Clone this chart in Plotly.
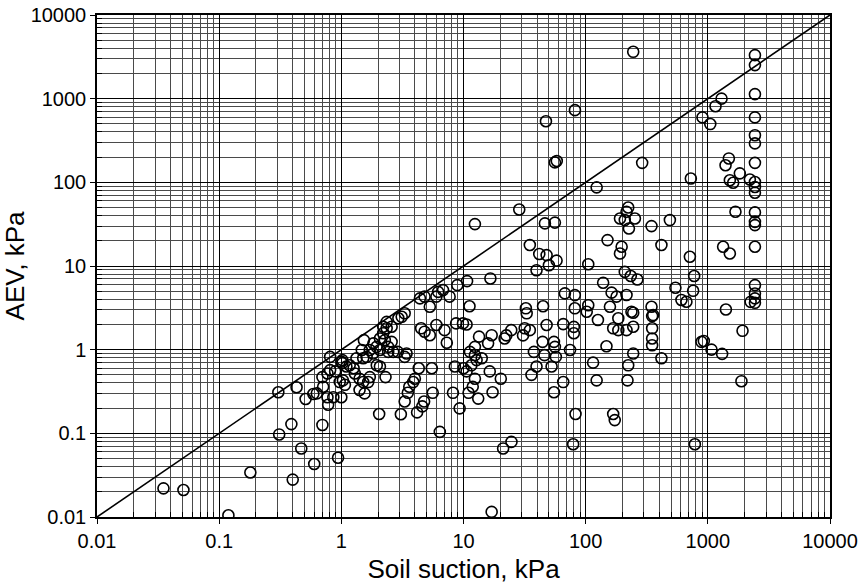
import plotly.graph_objects as go

# ---- data (soil suction kPa, AEV kPa) grouped by region ----
suction_a = [0.035, 0.051, 0.119, 0.18, 0.40, 0.60, 0.47, 0.31, 0.39, 0.70, 0.94]
aev_a     = [0.022, 0.021, 0.0105, 0.034, 0.028, 0.043, 0.066, 0.097, 0.129, 0.126, 0.051]

suction_b = [0.305, 0.43, 0.51, 0.59, 0.63, 0.70, 0.77, 0.71, 0.77, 0.78, 0.86, 1.0, 0.97, 1.07,
             1.02, 1.02, 1.26, 1.33, 1.47, 1.53, 1.41, 1.55, 1.66, 1.71, 1.61, 1.71, 1.83, 1.94,
             2.07, 2.30, 2.04, 2.2, 2.35, 1.17, 1.10, 1.0, 0.81, 0.89, 2.07, 0.81, 1.03, 1.29,
             1.41, 1.51, 1.51, 1.95]
aev_b     = [0.31, 0.355, 0.257, 0.295, 0.30, 0.47, 0.52, 0.36, 0.27, 0.22, 0.27, 0.27, 0.41, 0.38,
             0.69, 0.75, 0.60, 0.79, 0.99, 1.30, 0.33, 0.30, 0.41, 0.47, 0.82, 0.99, 1.19, 1.08,
             0.63, 0.47, 0.17, 1.88, 2.15, 0.65, 0.63, 0.72, 0.57, 0.55, 1.36, 0.82, 0.43, 0.52,
             0.45, 0.41, 0.79, 0.65]

suction_c = [3.3, 3.12, 2.93, 2.58, 2.35, 2.2, 2.27, 2.58, 2.42, 2.07, 1.82,
             4.4, 4.8, 5.3, 6.0, 6.2, 6.8, 7.7, 8.9, 10.7, 16.6, 11.2,
             7.3, 7.0, 6.0, 5.3, 4.8, 4.5,
             3.42, 3.3, 2.66, 2.42, 2.9,
             3.07, 4.17, 4.6, 4.76, 3.3, 3.5, 3.6, 3.88, 4.0, 5.6, 4.3, 5.5, 6.4,
             8.7, 9.9, 10.6]
aev_c     = [2.72, 2.47, 2.37, 1.88, 1.80, 1.57, 1.30, 1.24, 1.08, 0.99, 0.90,
             4.1, 4.3, 3.26, 4.3, 4.9, 5.15, 4.3, 5.9, 6.6, 7.1, 3.3,
             1.21, 1.71, 1.97, 1.49, 1.64, 1.80,
             0.90, 0.82, 0.94, 0.94, 0.94,
             0.169, 0.178, 0.21, 0.24, 0.24, 0.305, 0.36, 0.41, 0.45, 0.305, 0.60, 0.60, 0.104,
             2.06, 2.06, 2.0]

suction_d = [8.2, 9.3, 11, 11.9, 13.2, 17.3, 20.2, 16.4, 12.4,
             8.5, 10, 11.6, 12.8, 14.1, 12.4, 11.3, 12.4, 13.4, 17, 15.9, 10.6,
             12.4, 17, 24.7, 21.1, 22.4, 21.7, 24.6]
aev_d     = [0.305, 0.199, 0.305, 0.36, 0.26, 0.31, 0.45, 0.55, 0.45,
             0.63, 0.60, 0.65, 0.75, 0.79, 0.86, 0.94, 1.08, 1.43, 1.49, 1.19, 0.55,
             31.7, 0.0115, 0.079, 0.066, 1.48, 1.36, 1.71]

suction_e = [28.6, 46.4, 56, 34.9, 41.7, 47.9, 57.8, 50, 39.6, 67.6, 81.5, 81.5, 32.4, 32.9, 44.8,
             80, 80, 65.5, 47.9, 31.7, 34.9, 30.7, 44.4, 55, 56, 74.5, 37.7, 46, 57, 52.6, 39.6,
             36, 65.5, 55, 82.6, 79, 47.3, 81.7, 56, 58]
aev_e     = [47.4, 32.3, 33, 17.8, 13.9, 13.5, 11.6, 10.2, 8.9, 4.71, 4.49, 3.12, 3.12, 2.72, 3.3,
             1.87, 1.57, 2.02, 1.97, 1.8, 1.71, 1.48, 1.24, 1.24, 1.08, 0.99, 0.94, 0.86, 0.82, 0.63, 0.63,
             0.50, 0.41, 0.31, 0.17, 0.074, 537, 729, 173, 180]

suction_f = [245, 290, 123, 726, 223, 216, 191, 209, 253, 226, 346, 489, 151, 197, 191, 417, 713,
             105, 209, 234, 265, 139, 163, 179, 216, 543, 608, 668, 758, 773,
             105, 102, 158, 237, 346, 357,
             126, 185, 168, 185, 216, 245, 245, 350, 350, 350, 350, 245, 223, 148, 115, 123, 220,
             417, 887, 168, 173, 783]
aev_f     = [3630, 171, 87, 111, 50, 44.5, 37, 35.4, 37, 28.1, 30, 35.4, 20.4, 17, 14.1, 17.8, 12.9,
             10.5, 8.5, 7.6, 6.9, 6.3, 4.8, 4.3, 4.5, 5.5, 3.92, 3.74, 5.05, 7.6,
             3.4, 2.84, 3.26, 2.84, 3.26, 2.59,
             2.26, 2.37, 1.80, 1.71, 1.71, 1.88, 2.76, 2.52, 1.80, 1.36, 1.13, 0.90, 0.65, 1.10, 0.70, 0.43, 0.43,
             0.79, 1.24, 0.17, 0.144, 0.074]

suction_g = [1295, 1156, 904, 1047, 1486, 1396, 1828, 1514, 1612, 2208, 1683, 1334, 1514,
             1406, 1923, 927, 1072, 1309, 1884, 2240]
aev_g     = [1000, 813, 597, 497, 193, 160, 128, 106, 99, 108, 44.5, 17, 14.1,
             3.02, 1.68, 1.27, 1.0, 0.89, 0.42, 3.73]

suction_col = [2430] * 18
aev_col     = [3310, 2520, 1132, 597, 366, 292, 171, 101, 88, 75, 43.7, 33.7, 30.8, 17, 5.9, 4.7, 4.1, 3.63]

line_x = [0.01, 10000]
line_y = [0.01, 10000]

decades = [0.01, 0.1, 1, 10, 100, 1000, 10000]
decade_labels = ["0.01", "0.1", "1", "10", "100", "1000", "10000"]
minor_vals = [m * d for d in decades[:-1] for m in range(2, 10)]

suction = suction_a + suction_b + suction_c + suction_d + suction_e + suction_f + suction_g + suction_col
aev = aev_a + aev_b + aev_c + aev_d + aev_e + aev_f + aev_g + aev_col

FONT = "Liberation Sans, Arial, sans-serif"

fig = go.Figure()
fig.add_trace(go.Scatter(x=line_x, y=line_y, mode="lines",
                         line=dict(color="black", width=1.6), showlegend=False, hoverinfo="skip"))
fig.add_trace(go.Scatter(x=suction, y=aev, mode="markers",
                         marker=dict(symbol="circle-open", size=11, color="black",
                                     line=dict(width=1.6, color="black")),
                         showlegend=False))

axis_common = dict(
    type="log",
    range=[-2, 4],
    automargin=False,
    tickmode="array",
    tickvals=decades,
    ticktext=decade_labels,
    showgrid=True,
    gridcolor="black",
    gridwidth=1,
    showline=True,
    linecolor="black",
    linewidth=1.5,
    mirror=True,
    ticks="outside",
    ticklen=5,
    tickcolor="black",
    tickfont=dict(family=FONT, size=20, color="black"),
    zeroline=False,
    minor=dict(tickmode="array", tickvals=minor_vals, showgrid=True,
               gridcolor="#4a4a4a", gridwidth=1, ticks="inside", ticklen=5, tickcolor="black"),
)

fig.update_layout(
    width=864, height=587,
    margin=dict(l=97, r=34, t=15, b=70),
    paper_bgcolor="white", plot_bgcolor="white",
    font=dict(family=FONT, color="black"),
    xaxis=dict(axis_common,
               title=dict(text="Soil suction, kPa", font=dict(family=FONT, size=26), standoff=9)),
    yaxis=dict(axis_common,
               title=dict(text="AEV, kPa", font=dict(family=FONT, size=26), standoff=1)),
)

fig.write_html("out.html")
